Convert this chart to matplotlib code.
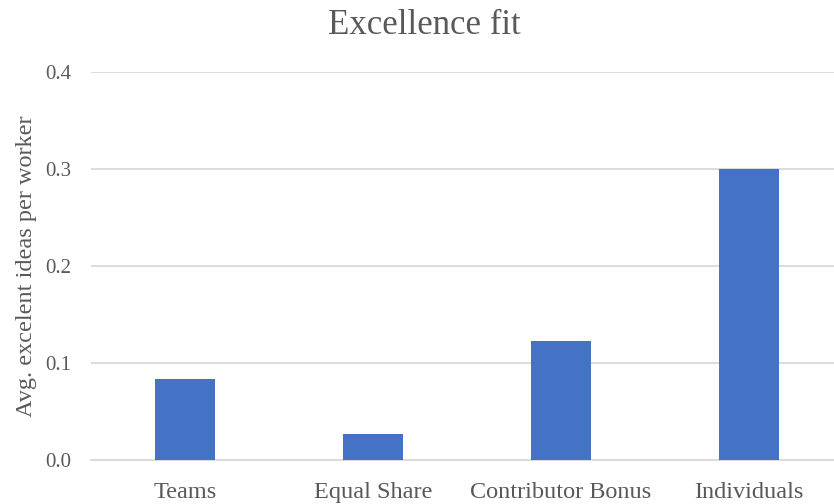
import matplotlib
matplotlib.use("Agg")
import matplotlib.pyplot as plt

categories = ["Teams", "Equal Share", "Contributor Bonus", "Individuals"]
values = [0.083, 0.027, 0.123, 0.300]
yticks = [0.0, 0.1, 0.2, 0.3, 0.4]
title = "Excellence fit"
ylabel = "Avg. excelent ideas per worker"

plt.rcParams['font.family'] = ['Liberation Serif', 'DejaVu Serif']
text_color = "#595959"

fig = plt.figure(figsize=(8.34, 5.04), dpi=100)
ax = fig.add_axes([91/834, 44/504, 752/834, 388/504])

x = list(range(len(categories)))
ax.bar(x, values, width=0.32, color="#4472C4", zorder=3)

ax.set_xlim(-0.5, len(categories) - 0.5)
ax.set_ylim(0, 0.4)
ax.set_yticks(yticks)
ax.set_yticklabels([f"{v:.1f}" for v in yticks])
ax.set_xticks(x)
ax.set_xticklabels(categories)

ax.grid(axis='y', color="#d9d9d9", linewidth=1.3, zorder=0)
for s in ["top", "right", "left"]:
    ax.spines[s].set_visible(False)
ax.spines["bottom"].set_color("#d9d9d9")
ax.spines["bottom"].set_linewidth(1.3)
ax.tick_params(axis='both', length=0, colors=text_color)
ax.tick_params(axis='x', pad=16, labelsize=17.5)
ax.tick_params(axis='y', pad=14, labelsize=15)

ax.set_ylabel(ylabel, fontsize=17.5, color=text_color)
ax.yaxis.label.set_va('center')
ax.yaxis.set_label_coords((27 - 91) / 752, 0.5)
fig.text(424/834, 1 - 25/504, title, ha='center', va='center', fontsize=25, color=text_color)

fig.savefig("out.png", dpi=100)
